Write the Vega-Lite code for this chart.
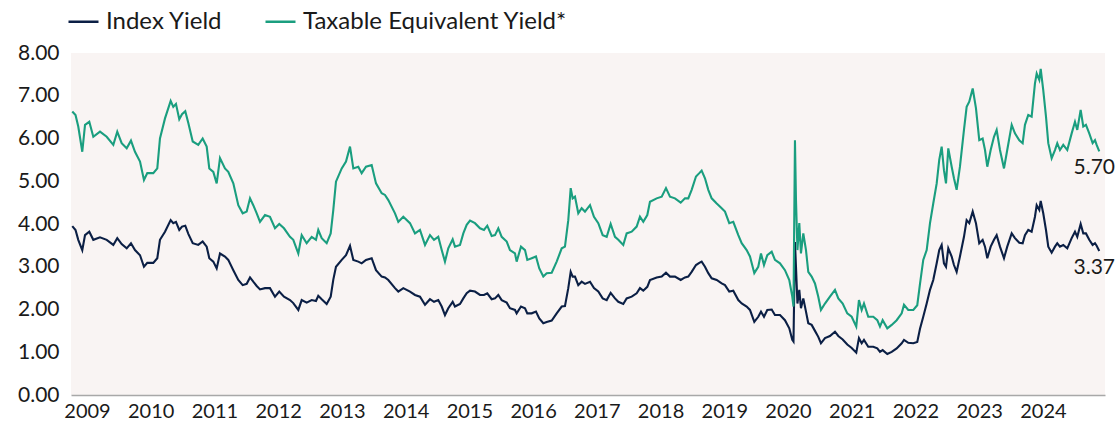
{
  "$schema": "https://vega.github.io/schema/vega-lite/v6.json",
  "width": 1034,
  "height": 342,
  "autosize": {"type": "none"},
  "padding": {"left": 71, "top": 53, "right": 15, "bottom": 36},
  "background": "white",
  "config": {
    "font": "Lato",
    "view": {"fill": "#f9f4f3", "stroke": null},
    "axis": {"labelFont": "Lato", "labelFontSize": 20, "labelColor": "#1a1a1a", "ticks": false, "grid": false, "title": null},
    "legend": {"labelFont": "Lato"}
  },
  "data": {
    "values": [
      {"year": 2008.769, "index": 3.95, "taxable": 6.63},
      {"year": 2008.820, "index": 3.86, "taxable": 6.55},
      {"year": 2008.863, "index": 3.63, "taxable": 6.28},
      {"year": 2008.926, "index": 3.39, "taxable": 5.69},
      {"year": 2008.969, "index": 3.74, "taxable": 6.32},
      {"year": 2009.036, "index": 3.82, "taxable": 6.39},
      {"year": 2009.099, "index": 3.63, "taxable": 6.04},
      {"year": 2009.204, "index": 3.69, "taxable": 6.16},
      {"year": 2009.309, "index": 3.63, "taxable": 6.04},
      {"year": 2009.413, "index": 3.51, "taxable": 5.85},
      {"year": 2009.475, "index": 3.67, "taxable": 6.16},
      {"year": 2009.544, "index": 3.53, "taxable": 5.89},
      {"year": 2009.623, "index": 3.43, "taxable": 5.77},
      {"year": 2009.690, "index": 3.55, "taxable": 5.95},
      {"year": 2009.753, "index": 3.39, "taxable": 5.69},
      {"year": 2009.832, "index": 3.27, "taxable": 5.46},
      {"year": 2009.894, "index": 3.00, "taxable": 5.03},
      {"year": 2009.946, "index": 3.09, "taxable": 5.19},
      {"year": 2010.040, "index": 3.09, "taxable": 5.19},
      {"year": 2010.103, "index": 3.20, "taxable": 5.30},
      {"year": 2010.145, "index": 3.63, "taxable": 6.00},
      {"year": 2010.224, "index": 3.82, "taxable": 6.47},
      {"year": 2010.313, "index": 4.09, "taxable": 6.88},
      {"year": 2010.354, "index": 4.02, "taxable": 6.74},
      {"year": 2010.396, "index": 4.05, "taxable": 6.81},
      {"year": 2010.448, "index": 3.86, "taxable": 6.45},
      {"year": 2010.491, "index": 3.94, "taxable": 6.57},
      {"year": 2010.542, "index": 3.96, "taxable": 6.64},
      {"year": 2010.590, "index": 3.77, "taxable": 6.36},
      {"year": 2010.659, "index": 3.55, "taxable": 5.93},
      {"year": 2010.746, "index": 3.51, "taxable": 5.85},
      {"year": 2010.815, "index": 3.59, "taxable": 6.00},
      {"year": 2010.878, "index": 3.47, "taxable": 5.81},
      {"year": 2010.919, "index": 3.20, "taxable": 5.30},
      {"year": 2010.982, "index": 3.12, "taxable": 5.22},
      {"year": 2011.035, "index": 2.96, "taxable": 4.95},
      {"year": 2011.087, "index": 3.31, "taxable": 5.54},
      {"year": 2011.165, "index": 3.24, "taxable": 5.30},
      {"year": 2011.217, "index": 3.16, "taxable": 5.22},
      {"year": 2011.296, "index": 2.92, "taxable": 4.95},
      {"year": 2011.374, "index": 2.69, "taxable": 4.44},
      {"year": 2011.443, "index": 2.57, "taxable": 4.25},
      {"year": 2011.506, "index": 2.60, "taxable": 4.29},
      {"year": 2011.558, "index": 2.75, "taxable": 4.60},
      {"year": 2011.609, "index": 2.65, "taxable": 4.44},
      {"year": 2011.663, "index": 2.55, "taxable": 4.25},
      {"year": 2011.715, "index": 2.47, "taxable": 4.05},
      {"year": 2011.793, "index": 2.50, "taxable": 4.21},
      {"year": 2011.871, "index": 2.50, "taxable": 4.17},
      {"year": 2011.950, "index": 2.30, "taxable": 3.90},
      {"year": 2012.017, "index": 2.42, "taxable": 4.00},
      {"year": 2012.091, "index": 2.30, "taxable": 3.90},
      {"year": 2012.185, "index": 2.22, "taxable": 3.70},
      {"year": 2012.237, "index": 2.15, "taxable": 3.63},
      {"year": 2012.316, "index": 1.99, "taxable": 3.31},
      {"year": 2012.369, "index": 2.22, "taxable": 3.74},
      {"year": 2012.447, "index": 2.16, "taxable": 3.55},
      {"year": 2012.526, "index": 2.22, "taxable": 3.70},
      {"year": 2012.593, "index": 2.20, "taxable": 3.63},
      {"year": 2012.629, "index": 2.32, "taxable": 3.86},
      {"year": 2012.683, "index": 2.24, "taxable": 3.67},
      {"year": 2012.761, "index": 2.13, "taxable": 3.55},
      {"year": 2012.824, "index": 2.30, "taxable": 3.78},
      {"year": 2012.865, "index": 2.70, "taxable": 4.33},
      {"year": 2012.907, "index": 3.00, "taxable": 4.99},
      {"year": 2012.997, "index": 3.16, "taxable": 5.30},
      {"year": 2013.064, "index": 3.27, "taxable": 5.46},
      {"year": 2013.127, "index": 3.49, "taxable": 5.81},
      {"year": 2013.179, "index": 3.16, "taxable": 5.30},
      {"year": 2013.257, "index": 3.12, "taxable": 5.34},
      {"year": 2013.310, "index": 3.08, "taxable": 5.19},
      {"year": 2013.378, "index": 3.16, "taxable": 5.34},
      {"year": 2013.467, "index": 3.20, "taxable": 5.38},
      {"year": 2013.535, "index": 2.92, "taxable": 4.95},
      {"year": 2013.624, "index": 2.77, "taxable": 4.72},
      {"year": 2013.676, "index": 2.75, "taxable": 4.68},
      {"year": 2013.728, "index": 2.69, "taxable": 4.56},
      {"year": 2013.833, "index": 2.50, "taxable": 4.25},
      {"year": 2013.885, "index": 2.42, "taxable": 4.05},
      {"year": 2013.963, "index": 2.50, "taxable": 4.17},
      {"year": 2014.068, "index": 2.42, "taxable": 4.02},
      {"year": 2014.147, "index": 2.34, "taxable": 3.78},
      {"year": 2014.225, "index": 2.30, "taxable": 3.86},
      {"year": 2014.304, "index": 2.11, "taxable": 3.51},
      {"year": 2014.382, "index": 2.24, "taxable": 3.74},
      {"year": 2014.445, "index": 2.18, "taxable": 3.63},
      {"year": 2014.512, "index": 2.22, "taxable": 3.70},
      {"year": 2014.566, "index": 2.07, "taxable": 3.39},
      {"year": 2014.617, "index": 1.87, "taxable": 3.12},
      {"year": 2014.669, "index": 2.03, "taxable": 3.43},
      {"year": 2014.738, "index": 2.18, "taxable": 3.64},
      {"year": 2014.774, "index": 2.07, "taxable": 3.47},
      {"year": 2014.853, "index": 2.13, "taxable": 3.51},
      {"year": 2014.905, "index": 2.26, "taxable": 3.78},
      {"year": 2014.958, "index": 2.38, "taxable": 3.98},
      {"year": 2015.010, "index": 2.44, "taxable": 4.08},
      {"year": 2015.088, "index": 2.42, "taxable": 4.02},
      {"year": 2015.167, "index": 2.34, "taxable": 3.90},
      {"year": 2015.229, "index": 2.34, "taxable": 3.86},
      {"year": 2015.281, "index": 2.38, "taxable": 3.96},
      {"year": 2015.350, "index": 2.24, "taxable": 3.72},
      {"year": 2015.402, "index": 2.26, "taxable": 3.74},
      {"year": 2015.454, "index": 2.34, "taxable": 3.90},
      {"year": 2015.507, "index": 2.22, "taxable": 3.70},
      {"year": 2015.586, "index": 2.16, "taxable": 3.59},
      {"year": 2015.637, "index": 2.03, "taxable": 3.39},
      {"year": 2015.716, "index": 1.99, "taxable": 3.31},
      {"year": 2015.742, "index": 1.91, "taxable": 3.12},
      {"year": 2015.810, "index": 2.07, "taxable": 3.47},
      {"year": 2015.873, "index": 2.03, "taxable": 3.39},
      {"year": 2015.909, "index": 1.91, "taxable": 3.16},
      {"year": 2015.978, "index": 1.91, "taxable": 3.20},
      {"year": 2016.045, "index": 1.95, "taxable": 3.24},
      {"year": 2016.097, "index": 1.79, "taxable": 2.96},
      {"year": 2016.160, "index": 1.68, "taxable": 2.77},
      {"year": 2016.213, "index": 1.71, "taxable": 2.85},
      {"year": 2016.292, "index": 1.74, "taxable": 2.86},
      {"year": 2016.370, "index": 1.91, "taxable": 3.12},
      {"year": 2016.449, "index": 2.07, "taxable": 3.43},
      {"year": 2016.500, "index": 2.08, "taxable": 3.47},
      {"year": 2016.552, "index": 2.50, "taxable": 4.09},
      {"year": 2016.590, "index": 2.88, "taxable": 4.84},
      {"year": 2016.621, "index": 2.77, "taxable": 4.60},
      {"year": 2016.657, "index": 2.77, "taxable": 4.64},
      {"year": 2016.709, "index": 2.57, "taxable": 4.25},
      {"year": 2016.762, "index": 2.65, "taxable": 4.37},
      {"year": 2016.814, "index": 2.60, "taxable": 4.29},
      {"year": 2016.893, "index": 2.65, "taxable": 4.44},
      {"year": 2016.955, "index": 2.50, "taxable": 4.17},
      {"year": 2017.023, "index": 2.42, "taxable": 4.02},
      {"year": 2017.092, "index": 2.26, "taxable": 3.74},
      {"year": 2017.155, "index": 2.22, "taxable": 3.70},
      {"year": 2017.217, "index": 2.39, "taxable": 4.00},
      {"year": 2017.285, "index": 2.26, "taxable": 3.70},
      {"year": 2017.337, "index": 2.18, "taxable": 3.63},
      {"year": 2017.415, "index": 2.13, "taxable": 3.51},
      {"year": 2017.468, "index": 2.26, "taxable": 3.78},
      {"year": 2017.547, "index": 2.30, "taxable": 3.82},
      {"year": 2017.625, "index": 2.38, "taxable": 3.94},
      {"year": 2017.677, "index": 2.50, "taxable": 4.17},
      {"year": 2017.729, "index": 2.44, "taxable": 4.05},
      {"year": 2017.792, "index": 2.53, "taxable": 4.21},
      {"year": 2017.834, "index": 2.69, "taxable": 4.52},
      {"year": 2017.939, "index": 2.75, "taxable": 4.60},
      {"year": 2018.018, "index": 2.77, "taxable": 4.64},
      {"year": 2018.085, "index": 2.86, "taxable": 4.84},
      {"year": 2018.148, "index": 2.77, "taxable": 4.64},
      {"year": 2018.226, "index": 2.77, "taxable": 4.60},
      {"year": 2018.316, "index": 2.69, "taxable": 4.50},
      {"year": 2018.383, "index": 2.75, "taxable": 4.60},
      {"year": 2018.435, "index": 2.77, "taxable": 4.60},
      {"year": 2018.488, "index": 2.88, "taxable": 4.80},
      {"year": 2018.556, "index": 3.04, "taxable": 5.11},
      {"year": 2018.608, "index": 3.09, "taxable": 5.19},
      {"year": 2018.645, "index": 3.12, "taxable": 5.25},
      {"year": 2018.697, "index": 3.00, "taxable": 5.07},
      {"year": 2018.749, "index": 2.85, "taxable": 4.80},
      {"year": 2018.802, "index": 2.73, "taxable": 4.60},
      {"year": 2018.881, "index": 2.69, "taxable": 4.48},
      {"year": 2018.959, "index": 2.61, "taxable": 4.37},
      {"year": 2019.011, "index": 2.57, "taxable": 4.29},
      {"year": 2019.078, "index": 2.42, "taxable": 4.02},
      {"year": 2019.141, "index": 2.44, "taxable": 4.05},
      {"year": 2019.220, "index": 2.22, "taxable": 3.74},
      {"year": 2019.273, "index": 2.14, "taxable": 3.55},
      {"year": 2019.351, "index": 2.07, "taxable": 3.39},
      {"year": 2019.403, "index": 1.99, "taxable": 3.24},
      {"year": 2019.471, "index": 1.71, "taxable": 2.85},
      {"year": 2019.533, "index": 1.83, "taxable": 3.00},
      {"year": 2019.576, "index": 1.95, "taxable": 3.31},
      {"year": 2019.623, "index": 1.83, "taxable": 3.04},
      {"year": 2019.675, "index": 1.99, "taxable": 3.27},
      {"year": 2019.744, "index": 2.00, "taxable": 3.35},
      {"year": 2019.795, "index": 1.87, "taxable": 3.16},
      {"year": 2019.874, "index": 1.87, "taxable": 3.08},
      {"year": 2019.952, "index": 1.75, "taxable": 2.92},
      {"year": 2020.020, "index": 1.56, "taxable": 2.69},
      {"year": 2020.067, "index": 1.29, "taxable": 2.30},
      {"year": 2020.086, "index": 1.25, "taxable": 2.07},
      {"year": 2020.109, "index": 3.58, "taxable": 5.96},
      {"year": 2020.125, "index": 3.00, "taxable": 4.56},
      {"year": 2020.148, "index": 2.14, "taxable": 3.39},
      {"year": 2020.177, "index": 2.46, "taxable": 4.02},
      {"year": 2020.203, "index": 2.03, "taxable": 3.31},
      {"year": 2020.240, "index": 2.26, "taxable": 3.78},
      {"year": 2020.282, "index": 1.95, "taxable": 3.39},
      {"year": 2020.318, "index": 1.68, "taxable": 2.88},
      {"year": 2020.371, "index": 1.64, "taxable": 2.77},
      {"year": 2020.423, "index": 1.50, "taxable": 2.61},
      {"year": 2020.475, "index": 1.36, "taxable": 2.30},
      {"year": 2020.517, "index": 1.21, "taxable": 1.99},
      {"year": 2020.580, "index": 1.33, "taxable": 2.14},
      {"year": 2020.658, "index": 1.38, "taxable": 2.30},
      {"year": 2020.737, "index": 1.48, "taxable": 2.46},
      {"year": 2020.789, "index": 1.38, "taxable": 2.26},
      {"year": 2020.858, "index": 1.30, "taxable": 2.14},
      {"year": 2020.930, "index": 1.18, "taxable": 1.91},
      {"year": 2020.999, "index": 1.10, "taxable": 1.83},
      {"year": 2021.071, "index": 0.99, "taxable": 1.60},
      {"year": 2021.113, "index": 1.33, "taxable": 2.22},
      {"year": 2021.156, "index": 1.21, "taxable": 1.99},
      {"year": 2021.192, "index": 1.29, "taxable": 2.14},
      {"year": 2021.259, "index": 1.13, "taxable": 1.83},
      {"year": 2021.338, "index": 1.13, "taxable": 1.83},
      {"year": 2021.401, "index": 1.09, "taxable": 1.75},
      {"year": 2021.443, "index": 1.01, "taxable": 1.60},
      {"year": 2021.485, "index": 1.05, "taxable": 1.75},
      {"year": 2021.558, "index": 0.96, "taxable": 1.56},
      {"year": 2021.627, "index": 1.01, "taxable": 1.64},
      {"year": 2021.705, "index": 1.09, "taxable": 1.75},
      {"year": 2021.784, "index": 1.21, "taxable": 1.91},
      {"year": 2021.820, "index": 1.29, "taxable": 2.11},
      {"year": 2021.887, "index": 1.22, "taxable": 1.99},
      {"year": 2021.966, "index": 1.21, "taxable": 1.99},
      {"year": 2022.028, "index": 1.24, "taxable": 2.10},
      {"year": 2022.071, "index": 1.55, "taxable": 2.60},
      {"year": 2022.122, "index": 1.83, "taxable": 3.16},
      {"year": 2022.176, "index": 2.14, "taxable": 3.39},
      {"year": 2022.228, "index": 2.46, "taxable": 4.02},
      {"year": 2022.279, "index": 2.69, "taxable": 4.48},
      {"year": 2022.333, "index": 3.08, "taxable": 4.95},
      {"year": 2022.373, "index": 3.39, "taxable": 5.50},
      {"year": 2022.411, "index": 3.51, "taxable": 5.81},
      {"year": 2022.447, "index": 3.08, "taxable": 5.26},
      {"year": 2022.479, "index": 3.00, "taxable": 4.95},
      {"year": 2022.515, "index": 3.43, "taxable": 5.77},
      {"year": 2022.568, "index": 3.24, "taxable": 5.34},
      {"year": 2022.604, "index": 3.04, "taxable": 5.07},
      {"year": 2022.646, "index": 2.88, "taxable": 4.80},
      {"year": 2022.698, "index": 3.24, "taxable": 5.34},
      {"year": 2022.761, "index": 3.70, "taxable": 6.20},
      {"year": 2022.803, "index": 4.09, "taxable": 6.74},
      {"year": 2022.844, "index": 4.02, "taxable": 6.86},
      {"year": 2022.898, "index": 4.29, "taxable": 7.17},
      {"year": 2022.949, "index": 4.02, "taxable": 6.71},
      {"year": 2023.001, "index": 3.55, "taxable": 5.96},
      {"year": 2023.054, "index": 3.63, "taxable": 6.00},
      {"year": 2023.091, "index": 3.47, "taxable": 5.73},
      {"year": 2023.127, "index": 3.20, "taxable": 5.34},
      {"year": 2023.180, "index": 3.47, "taxable": 5.73},
      {"year": 2023.232, "index": 3.63, "taxable": 6.04},
      {"year": 2023.274, "index": 3.74, "taxable": 6.20},
      {"year": 2023.326, "index": 3.47, "taxable": 5.73},
      {"year": 2023.389, "index": 3.20, "taxable": 5.30},
      {"year": 2023.440, "index": 3.47, "taxable": 5.73},
      {"year": 2023.510, "index": 3.78, "taxable": 6.32},
      {"year": 2023.561, "index": 3.67, "taxable": 6.12},
      {"year": 2023.629, "index": 3.56, "taxable": 5.96},
      {"year": 2023.682, "index": 3.55, "taxable": 5.89},
      {"year": 2023.718, "index": 3.74, "taxable": 6.32},
      {"year": 2023.770, "index": 3.86, "taxable": 6.55},
      {"year": 2023.823, "index": 3.82, "taxable": 6.51},
      {"year": 2023.875, "index": 4.17, "taxable": 7.29},
      {"year": 2023.902, "index": 4.44, "taxable": 7.52},
      {"year": 2023.943, "index": 4.33, "taxable": 7.37},
      {"year": 2023.965, "index": 4.54, "taxable": 7.63},
      {"year": 2024.005, "index": 4.25, "taxable": 7.13},
      {"year": 2024.048, "index": 3.86, "taxable": 6.51},
      {"year": 2024.084, "index": 3.47, "taxable": 5.89},
      {"year": 2024.137, "index": 3.33, "taxable": 5.54},
      {"year": 2024.189, "index": 3.47, "taxable": 5.73},
      {"year": 2024.225, "index": 3.55, "taxable": 5.89},
      {"year": 2024.267, "index": 3.47, "taxable": 5.73},
      {"year": 2024.319, "index": 3.51, "taxable": 5.85},
      {"year": 2024.382, "index": 3.43, "taxable": 5.73},
      {"year": 2024.451, "index": 3.67, "taxable": 6.12},
      {"year": 2024.503, "index": 3.82, "taxable": 6.39},
      {"year": 2024.539, "index": 3.70, "taxable": 6.20},
      {"year": 2024.592, "index": 4.00, "taxable": 6.67},
      {"year": 2024.633, "index": 3.78, "taxable": 6.28},
      {"year": 2024.675, "index": 3.78, "taxable": 6.32},
      {"year": 2024.727, "index": 3.63, "taxable": 6.12},
      {"year": 2024.780, "index": 3.51, "taxable": 5.89},
      {"year": 2024.817, "index": 3.55, "taxable": 5.96},
      {"year": 2024.843, "index": 3.49, "taxable": 5.85},
      {"year": 2024.884, "index": 3.37, "taxable": 5.70}
    ]
  },
  "encoding": {
    "x": {
      "field": "year",
      "type": "quantitative",
      "scale": {"domain": [2008.749, 2024.974], "nice": false, "zero": false},
      "axis": {
        "values": [2009, 2010, 2011, 2012, 2013, 2014, 2015, 2016, 2017, 2018, 2019, 2020, 2021, 2022, 2023, 2024],
        "format": "d",
        "labelFlush": false,
        "labelPadding": 6,
        "domain": true,
        "domainColor": "#a8a8a8",
        "domainWidth": 1.5
      }
    }
  },
  "layer": [
    {
      "mark": {"type": "line", "strokeWidth": 2.1},
      "encoding": {
        "y": {
          "field": "index",
          "type": "quantitative",
          "scale": {"domain": [0, 8], "nice": false},
          "axis": {"values": [0, 1, 2, 3, 4, 5, 6, 7, 8], "format": ".2f", "domain": false, "labelPadding": 12, "labelFontSize": 21}
        },
        "color": {
          "datum": "Index Yield",
          "type": "nominal",
          "scale": {"domain": ["Index Yield", "Taxable Equivalent Yield*"], "range": ["#0b1f45", "#1a9e7f"]},
          "legend": {
            "orient": "none",
            "legendX": -4,
            "legendY": -48,
            "direction": "horizontal",
            "title": null,
            "symbolType": "stroke",
            "symbolSize": 900,
            "symbolStrokeWidth": 2.5,
            "labelFontSize": 24,
            "labelOffset": 6,
            "labelLimit": 600,
            "labelColor": "#1a1a1a",
            "columnPadding": 37
          }
        }
      }
    },
    {
      "mark": {"type": "line", "strokeWidth": 2.1},
      "encoding": {
        "y": {"field": "taxable", "type": "quantitative"},
        "color": {"datum": "Taxable Equivalent Yield*", "type": "nominal"}
      }
    },
    {
      "transform": [{"filter": "datum.year > 2024.88"}],
      "mark": {"type": "text", "align": "center", "baseline": "top", "dx": -5, "dy": 6, "fontSize": 21, "color": "#1a1a1a"},
      "encoding": {
        "y": {"field": "taxable", "type": "quantitative"},
        "text": {"field": "taxable", "type": "quantitative", "format": ".2f"}
      }
    },
    {
      "transform": [{"filter": "datum.year > 2024.88"}],
      "mark": {"type": "text", "align": "center", "baseline": "top", "dx": -5, "dy": 6, "fontSize": 21, "color": "#1a1a1a"},
      "encoding": {
        "y": {"field": "index", "type": "quantitative"},
        "text": {"field": "index", "type": "quantitative", "format": ".2f"}
      }
    }
  ]
}
